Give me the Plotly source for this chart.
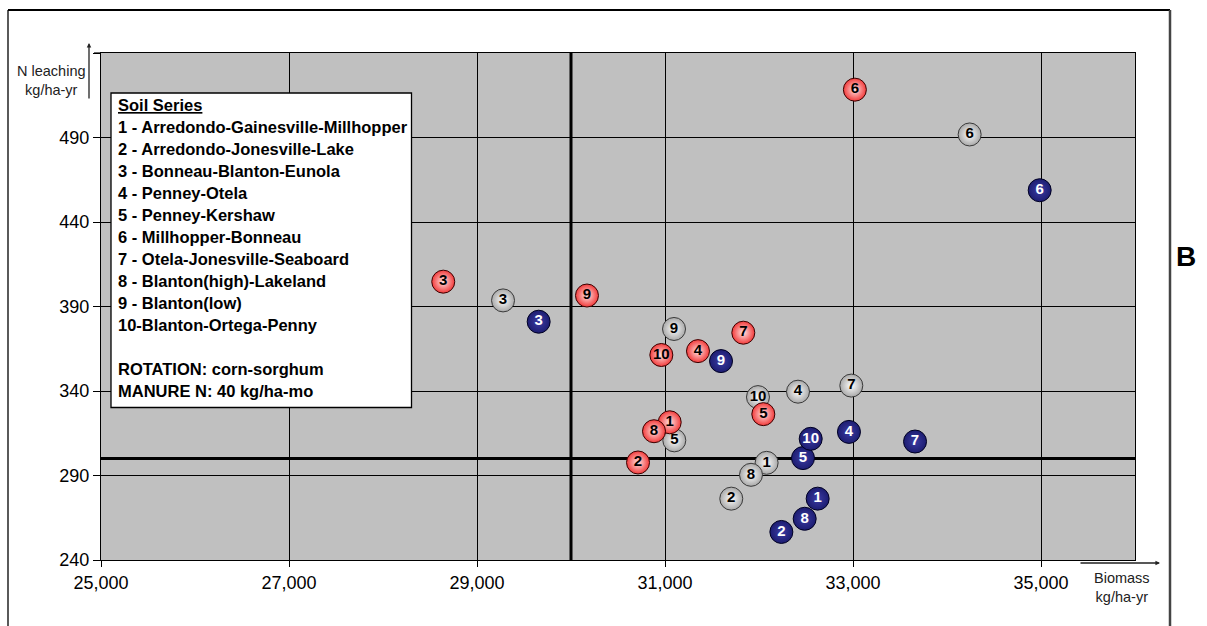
import plotly.graph_objects as go

# ---------------- data ----------------
soil_ids = ["1", "2", "3", "4", "5", "6", "7", "8", "9", "10"]

red_biomass = [31050, 30713, 28641, 31351, 32046, 33020, 31833, 30883, 30170, 30961]
red_leach = [321.5, 297.7, 404.7, 363.6, 326.3, 518.3, 374.5, 316.2, 396.5, 361.3]

white_biomass = [32081, 31705, 29277, 32415, 31099, 34241, 32982, 31915, 31096, 31989]
white_leach = [297.5, 276.3, 393.6, 339.6, 310.8, 491.8, 343.2, 290.4, 376.7, 336.4]

blue_biomass = [32624, 32238, 29656, 32957, 32468, 34986, 33660, 32486, 31596, 32550]
blue_leach = [276.3, 256.6, 381.0, 315.8, 300.3, 458.8, 310.1, 264.4, 357.7, 311.7]

threshold_biomass = 30000
threshold_leach = 300

x_range = [25000, 36000]
y_range = [240, 540]
x_ticks = [25000, 27000, 29000, 31000, 33000, 35000]
x_ticktext = ["25,000", "27,000", "29,000", "31,000", "33,000", "35,000"]
y_ticks = [240, 290, 340, 390, 440, 490, 540]
y_ticktext = ["240", "290", "340", "390", "440", "490", ""]

legend_title = "Soil Series"
legend_lines = [
    "1 - Arredondo-Gainesville-Millhopper",
    "2 - Arredondo-Jonesville-Lake",
    "3 - Bonneau-Blanton-Eunola",
    "4 - Penney-Otela",
    "5 - Penney-Kershaw",
    "6 - Millhopper-Bonneau",
    "7 - Otela-Jonesville-Seaboard",
    "8 - Blanton(high)-Lakeland",
    "9 - Blanton(low)",
    "10-Blanton-Ortega-Penny",
    "",
    "ROTATION: corn-sorghum",
    "MANURE N: 40 kg/ha-mo",
]

# ---------------- layout geometry (pixels) ----------------
W, H = 1207, 626
L, R, T, B = 101, 72, 53, 66
PW, PH = W - L - R, H - T - B


def px(xp):
    return (xp - L) / PW


def py(yp):
    return (H - B - yp) / PH


FONT = "Arial, Liberation Sans, sans-serif"

fig = go.Figure()


def add_series(xs, ys, color, center, line_color, text_color):
    fig.add_trace(go.Scatter(
        x=xs, y=ys, mode="markers+text",
        text=["<b>%s</b>" % s for s in soil_ids],
        textposition="middle center",
        textfont=dict(family=FONT, size=15, color=text_color),
        marker=dict(size=23, color=color,
                    gradient=dict(type="radial", color=center),
                    line=dict(color=line_color, width=1)),
        showlegend=False, hoverinfo="x+y",
    ))


add_series(white_biomass, white_leach, "#A8A8A8", "#FFFFFF", "#3A3A3A", "#000000")
add_series(red_biomass, red_leach, "#F23A3A", "#FFE4E4", "#3A0000", "#000000")
add_series(blue_biomass, blue_leach, "#1C1C70", "#3C3CA4", "#000022", "#FFFFFF")

shapes = [
    # threshold lines
    dict(type="line", xref="x", yref="paper", x0=threshold_biomass, x1=threshold_biomass,
         y0=0, y1=1, line=dict(color="black", width=3), layer="below"),
    dict(type="line", xref="paper", yref="y", x0=0, x1=1, y0=threshold_leach,
         y1=threshold_leach, line=dict(color="black", width=3), layer="below"),
    # legend box
    dict(type="rect", xref="paper", yref="paper", x0=px(111), x1=px(411.5),
         y0=py(407.5), y1=py(93), fillcolor="white",
         line=dict(color="black", width=1.3), layer="above"),
    # outer frame
    dict(type="line", xref="paper", yref="paper", x0=px(8), x1=px(8), y0=py(10), y1=py(640),
         line=dict(color="black", width=1.3)),
    dict(type="line", xref="paper", yref="paper", x0=px(8), x1=px(1170), y0=py(10), y1=py(10),
         line=dict(color="black", width=2)),
    dict(type="line", xref="paper", yref="paper", x0=px(1170), x1=px(1170), y0=py(10), y1=py(640),
         line=dict(color="#444444", width=2.5)),
    # top border extension
    dict(type="line", xref="paper", yref="paper", x0=px(94), x1=0, y0=1, y1=1,
         line=dict(color="black", width=1.2)),
]

annotations = []
# legend text
annotations.append(dict(
    xref="paper", yref="paper", x=px(116), y=py(105), xanchor="left", yanchor="middle",
    text="<b><span style='text-decoration:underline'>%s</span></b>" % legend_title,
    showarrow=False, font=dict(family=FONT, size=16.5, color="black")))
for i, line in enumerate(legend_lines):
    if not line:
        continue
    annotations.append(dict(
        xref="paper", yref="paper", x=px(116), y=py(127.3 + 22.0 * i),
        xanchor="left", yanchor="middle", text="<b>%s</b>" % line,
        showarrow=False, font=dict(family=FONT, size=16.5, color="black")))

# axis titles
annotations.append(dict(xref="paper", yref="paper", x=px(51), y=py(80.5),
                        xanchor="center", yanchor="middle",
                        text="N leaching<br>kg/ha-yr", showarrow=False,
                        font=dict(family=FONT, size=14.5, color="#222222")))
annotations.append(dict(xref="paper", yref="paper", x=px(1122), y=py(587),
                        xanchor="center", yanchor="middle",
                        text="Biomass<br>kg/ha-yr", showarrow=False,
                        font=dict(family=FONT, size=14.5, color="#222222")))
# axis arrows
annotations.append(dict(xref="paper", yref="paper", x=px(89), y=py(43), ax=0, ay=57,
                        text="", showarrow=True, arrowhead=2, arrowsize=0.7,
                        arrowwidth=1.3, arrowcolor="#222222"))
annotations.append(dict(xref="paper", yref="paper", x=px(1160), y=py(563), ax=-81, ay=0,
                        text="", showarrow=True, arrowhead=2, arrowsize=0.7,
                        arrowwidth=1.3, arrowcolor="#222222"))
# panel label
annotations.append(dict(xref="paper", yref="paper", x=px(1186), y=py(256),
                        xanchor="center", yanchor="middle", text="<b>B</b>",
                        showarrow=False, font=dict(family=FONT, size=28, color="black")))

fig.update_layout(
    width=W, height=H, autosize=False,
    margin=dict(l=L, r=R, t=T, b=B, pad=0),
    paper_bgcolor="white", plot_bgcolor="#C0C0C0",
    shapes=shapes, annotations=annotations,
    font=dict(family=FONT, color="black"),
)
fig.update_xaxes(range=x_range, tickvals=x_ticks, ticktext=x_ticktext,
                 showgrid=True, gridcolor="black", gridwidth=1,
                 showline=True, linecolor="black", linewidth=1.3, mirror=True,
                 ticks="outside", ticklen=6, tickcolor="black",
                 tickfont=dict(family=FONT, size=18, color="black"),
                 zeroline=False, fixedrange=True)
fig.update_yaxes(range=y_range, tickvals=y_ticks, ticktext=y_ticktext,
                 showgrid=True, gridcolor="black", gridwidth=1,
                 showline=True, linecolor="black", linewidth=1.3, mirror=True,
                 ticks="outside", ticklen=7, tickcolor="black",
                 tickfont=dict(family=FONT, size=18, color="black"),
                 zeroline=False, fixedrange=True)

fig.write_html("out.html", config={"displayModeBar": False},
               post_script="document.body.style.margin='0px'; document.body.style.overflow='hidden';")
